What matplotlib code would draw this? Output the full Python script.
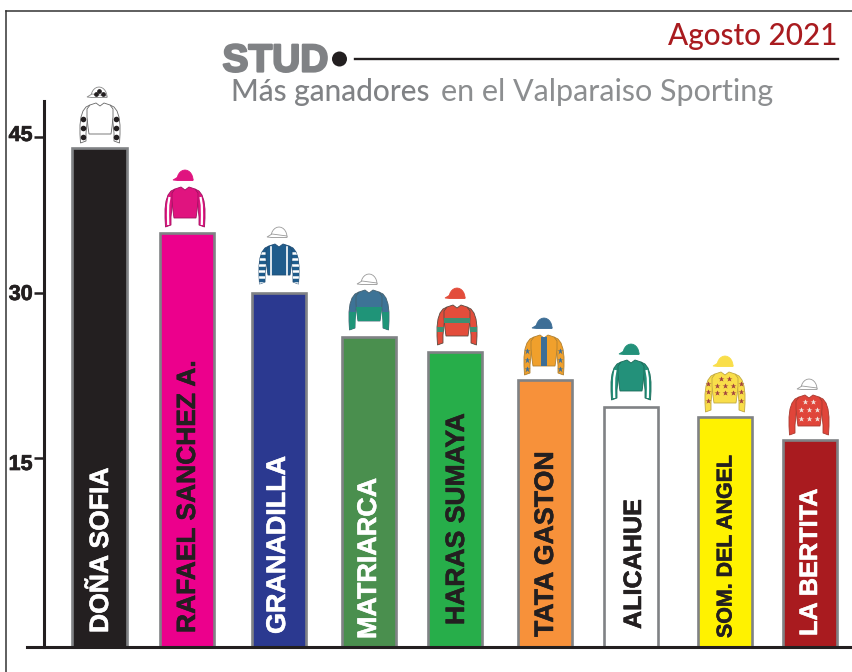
import numpy as np
import matplotlib
matplotlib.use("Agg")
import matplotlib.pyplot as plt
import matplotlib.patheffects as pe
from matplotlib.patches import Polygon, Circle
from matplotlib.transforms import ScaledTranslation

# === Datos ===
studs = ["DOÑA SOFIA", "RAFAEL SANCHEZ A.", "GRANADILLA", "MATRIARCA", "HARAS SUMAYA",
         "TATA GASTON", "ALICAHUE", "SOM. DEL ANGEL", "LA BERTITA"]
ganadores = [43.9, 35.8, 30, 26, 24.6, 22.1, 19.6, 18.7, 16.6]
yticks = [15, 30, 45]

# === Estilo ===
bar_centers = [99.5, 187, 279, 369, 455, 545, 631, 725, 810]
bar_colors = ["#231F20", "#EC008C", "#2B3990", "#4A8F4E", "#27AE4A", "#F7913A", "#FFFFFF", "#FFF200", "#A91B1F"]
label_colors = ["white", "#231F20", "white", "white", "#231F20", "#231F20", "#231F20", "#231F20", "white"]
label_x = [101, 188, 278, 369, 457, 546, 634, 726, 810]
label_bottom = [633, 633, 634, 639, 625, 637, 629, 638, 636]
label_size = [19.1, 19.0, 19.4, 19.4, 19.1, 19.25, 18.1, 15.4, 18.2]
tick_shift = [-4, 1, 4]

fig = plt.figure(figsize=(8.53, 6.72), dpi=100)
W, H = 853, 672
base_px, top_px = 647, 101

# la escala del original no es del todo lineal
scale_v = [0, 15, 30, 45, 60]
scale_p = [0, 189, 354, 510, 666]
fwd = lambda v: np.interp(v, scale_v, scale_p)
inv = lambda p: np.interp(p, scale_p, scale_v)

ax = fig.add_axes([0, (H - base_px) / H, 1, (base_px - top_px) / H])
ax.set_yscale("function", functions=(fwd, inv))
ax.set_xlim(0, W)
ax.set_ylim(0, inv(base_px - top_px))
ax.patch.set_alpha(0)

ax.bar(bar_centers, ganadores, width=54.5, color=bar_colors, edgecolor="#808285", linewidth=1.9, zorder=2)

for s in ["top", "right"]:
    ax.spines[s].set_visible(False)
ax.spines["left"].set_position(("data", 44))
ax.spines["left"].set_linewidth(2.2)
ax.spines["left"].set_color("#231F20")
ax.spines["bottom"].set_linewidth(2.2)
ax.spines["bottom"].set_color("#231F20")
ax.spines["bottom"].set_bounds(27, W)
ax.set_xticks([])
ax.set_yticks(yticks)
ax.set_yticks([], minor=True)
ax.tick_params(axis="y", length=7, width=1.8, color="#231F20", pad=1.2, which="major")
for t, dy in zip(ax.get_yticklabels(), tick_shift):
    t.set_family("Liberation Sans")
    t.set_fontweight("bold")
    t.set_fontsize(15.5)
    t.set_color("#231F20")
    t.set_path_effects([pe.withStroke(linewidth=0.5, foreground="#231F20")])
    t.set_transform(t.get_transform() + ScaledTranslation(0, dy / 100, fig.dpi_scale_trans))

# capa en pixeles para marco, titulos y chaquetillas
ov = fig.add_axes([0, 0, 1, 1], zorder=5)
ov.set_xlim(0, W)
ov.set_ylim(H, 0)
ov.axis("off")

for x, bottom, name, col, fs in zip(label_x, label_bottom, studs, label_colors, label_size):
    ov.text(x, bottom, name, rotation=90, ha="center", va="bottom", color=col,
            family="Liberation Sans", fontweight="bold", fontsize=fs,
            path_effects=[pe.withStroke(linewidth=0.4, foreground=col)])

ov.plot([6.5, 6.5], [672, 10.5], color="#333333", lw=1.1)
ov.plot([6.5, 853], [10.5, 10.5], color="#333333", lw=1.1)

gris = "#808285"
ov.text(222.5, 71.5, "STUD", family="Liberation Sans", fontweight="bold", fontsize=28, color=gris, va="baseline",
        path_effects=[pe.withStroke(linewidth=1.6, foreground=gris)])
ov.add_patch(Circle((339.5, 59), 7.5, color="#231F20", lw=0))
ov.plot([355, 838], [58.5, 58.5], color="#231F20", lw=1.7)
ov.text(231, 101.5, "Más ganadores", family="Lato", fontweight="medium", fontsize=21.5, color=gris, va="baseline")
ov.text(773, 101.5, "en el Valparaiso Sporting", family="Lato", fontweight="normal", fontsize=22,
        color="#8C8E90", va="baseline", ha="right")
ov.text(837, 45, "Agosto 2021", family="Lato", fontweight="medium", fontsize=21.3, color="#A91B1F", va="baseline", ha="right")


# === Chaquetillas ===
TORSO = [(-4, 0), (0, 3), (4, 0), (10, 2), (13, 6), (13, 14), (12, 24), (11, 31), (-11, 31), (-12, 24),
         (-13, 14), (-13, 6), (-10, 2)]
SLEEVE = [(10, 2), (14, 4), (17, 8), (19, 14), (20, 22), (20, 31), (19.5, 40), (14, 38), (14, 30), (13, 20), (12, 10)]


def local(pts, cx, top):
    return [(cx + x, top + y) for x, y in pts]


def mirrored(pts):
    return [(-x, y) for x, y in pts]


def draw_cap(cx, top, color, edge):
    t = np.radians(np.arange(0, 181, 15))
    dome = [(8 * np.cos(a), 10 - 10 * np.sin(a)) for a in t]
    ov.add_patch(Polygon(local(dome, cx, top), closed=True, fc=color, ec=edge, lw=0.6, zorder=6))
    brim = [(-7, 7), (-12, 10), (-7, 10.5), (8, 10.5), (8, 9)]
    ov.add_patch(Polygon(local(brim, cx, top), closed=True, fc=color, ec=edge, lw=0.6, zorder=6))


def draw_silk(cx, top, cap_top, body, sleeve, cap, edge="#555555", cap_edge=None, cap_cx=None):
    cap_cx = cx if cap_cx is None else cap_cx
    draw_cap(cap_cx, cap_top, cap, cap_edge or cap)
    parts = []
    for pts in (SLEEVE, mirrored(SLEEVE)):
        p = Polygon(local(pts, cx, top), closed=True, fc=sleeve, ec=edge, lw=0.6, zorder=6)
        ov.add_patch(p)
        parts.append(p)
    tor = Polygon(local(TORSO, cx, top), closed=True, fc=body, ec=edge, lw=0.6, zorder=7)
    ov.add_patch(tor)
    return tor, parts


def sleeve_marks(cx, top, marker, color, size, ys=(16, 25, 34)):
    for sgn in (-1, 1):
        ov.plot([cx + sgn * 16.5] * len(ys), [top + y for y in ys], ls="none", marker=marker, ms=size,
                color=color, mec="none", zorder=8)


def sleeve_line(cx, top, color, lw=1.6):
    line = [(15.5, 10), (16.8, 18), (17, 28), (16.8, 38)]
    for sgn in (-1, 1):
        ov.plot([cx + sgn * x for x, y in line], [top + y for x, y in line],
                color=color, lw=lw, zorder=8, solid_capstyle="butt")


# 1 DOÑA SOFIA
draw_silk(100, 103, 87, "white", "white", "white", edge="#666666", cap_edge="#888888", cap_cx=99)
sleeve_marks(100, 103, "o", "#231F20", 4)
ov.plot([96, 99.5, 103], [94, 90.5, 94], ls="none", marker="o", ms=2.4, color="#231F20", zorder=8)

# 2 RAFAEL SANCHEZ A.
draw_silk(185, 187, 170, "#E0147F", "#E0147F", "#E0147F", edge="#A01060")
sleeve_line(185, 187, "white")

# 3 GRANADILLA
tor, parts = draw_silk(279, 244, 227, "#1F5C8C", "#1F5C8C", "white", edge="#1F4C74", cap_edge="#999999")
for p in parts:
    for y in range(253, 288, 6):
        ln, = ov.plot([279 - 24, 279 + 24], [y, y], color="white", lw=1.8, zorder=6.5)
        ln.set_clip_path(p)
for x in (271, 287):
    ov.plot([x, x], [247, 275], color="white", lw=1.2, zorder=8)

# 4 MATRIARCA
tor, parts = draw_silk(369, 290, 274, "#3D7396", "#3D7396", "white", edge="#44606F", cap_edge="#999999")
low = Polygon(local([(-13, 17), (13, 17), (11, 31), (-11, 31)], 369, 290), closed=True, fc="#1F9478", ec="none", zorder=7.5)
ov.add_patch(low)
for sgn in (-1, 1):
    band = [(sgn * 13, 22), (sgn * 20, 22), (sgn * 19.5, 40), (sgn * 14, 38)]
    ov.add_patch(Polygon(local(band, 369, 290), closed=True, fc="#1F9478", ec="none", zorder=6.5))

# 5 HARAS SUMAYA
tor, parts = draw_silk(457, 305, 288, "#E34D3B", "#E34D3B", "#E34D3B", edge="#5A4A40")
ov.add_patch(Polygon(local([(-13, 13), (13, 13), (13, 18), (-13, 18)], 457, 305), closed=True, fc="#3E8F72", ec="none", zorder=7.5))
for sgn in (-1, 1):
    ov.add_patch(Polygon(local([(sgn * 13, 22), (sgn * 20, 22), (sgn * 20, 27), (sgn * 13.5, 27)], 457, 305),
                         closed=True, fc="#3E8F72", ec="none", zorder=6.5))

# 6 TATA GASTON
draw_silk(544, 335, 318, "#F0A02C", "#F0A02C", "#3D6E96", edge="#B08030")
ov.add_patch(Polygon(local([(-3, 2), (3, 2), (3, 31), (-3, 31)], 544, 335), closed=True, fc="#3D6E96", ec="none", zorder=7.5))
sleeve_marks(544, 335, "*", "#3D6E96", 4.5)

# 7 ALICAHUE
draw_silk(631, 360, 344, "#23917A", "#23917A", "#23917A", edge="#1A6A58")
sleeve_line(631, 360, "white")

# 8 SOM. DEL ANGEL
star = "#A0413F"
draw_silk(725, 372, 356, "#F9DE4A", "#F9DE4A", "#F9DE4A", edge="#C0A840")
for y, xs in [(7, (-4, 4)), (14, (-8, 0, 8)), (21, (-8, 0, 8))]:
    ov.plot([725 + x for x in xs], [372 + y] * len(xs), ls="none", marker="*", ms=4.2, color=star, mec="none", zorder=8)
sleeve_marks(725, 372, "*", star, 4.2, ys=(12, 20, 29))

# 9 LA BERTITA
draw_silk(809, 395, 379, "#E0453A", "#E0453A", "white", edge="#A83A30", cap_edge="#999999")
for y, xs in [(7, (-4, 4)), (15, (-8, 0, 8)), (24, (-8, 0, 8))]:
    ov.plot([809 + x for x in xs], [395 + y] * len(xs), ls="none", marker="*", ms=3.8, color="#F2E6E0", mec="none", zorder=8)

fig.savefig("out.png", dpi=100)
